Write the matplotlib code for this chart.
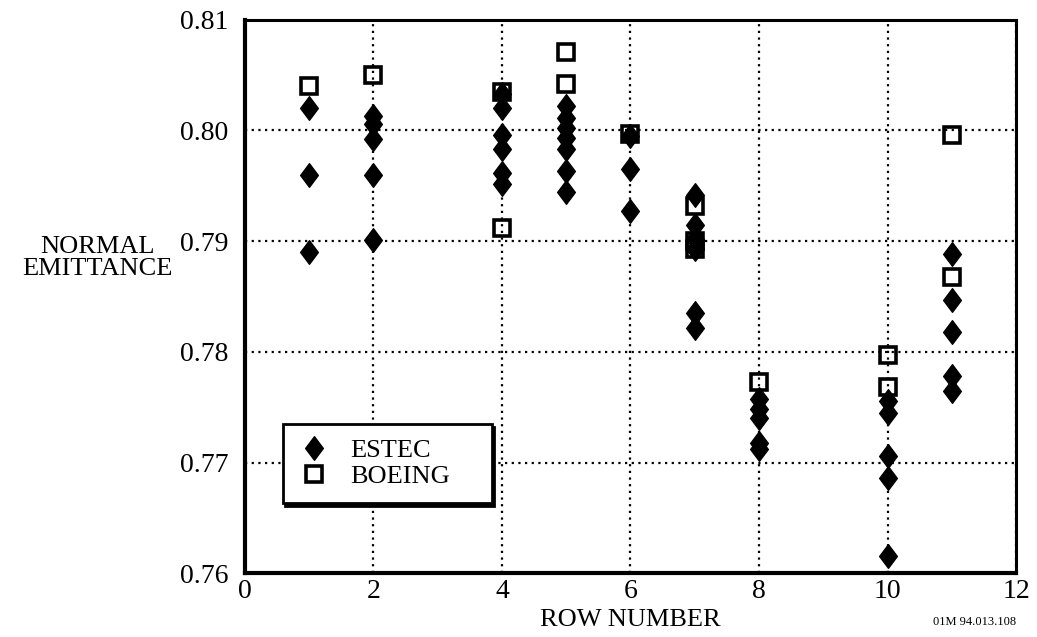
import matplotlib
matplotlib.use("Agg")
import matplotlib.pyplot as plt
from matplotlib.path import Path

plt.rcParams['font.family'] = ['Liberation Serif', 'DejaVu Serif']

# ESTEC measurements (row number, normal emittance)
estec_rows = [1, 1, 1,
              2, 2, 2, 2, 2,
              4, 4, 4, 4, 4, 4,
              5, 5, 5, 5, 5, 5, 5,
              6, 6, 6,
              7, 7, 7, 7, 7, 7,
              8, 8, 8, 8, 8,
              10, 10, 10, 10, 10,
              11, 11, 11, 11, 11]
estec_values = [0.8020, 0.7960, 0.7890,
                0.8013, 0.8006, 0.7992, 0.7960, 0.7901,
                0.8033, 0.8020, 0.7996, 0.7983, 0.7962, 0.7952,
                0.8022, 0.8011, 0.8002, 0.7993, 0.7983, 0.7963, 0.7944,
                0.7995, 0.7965, 0.7927,
                0.7942, 0.7915, 0.7902, 0.7893, 0.7835, 0.7822,
                0.7757, 0.7748, 0.7740, 0.7718, 0.7712,
                0.7756, 0.7745, 0.7706, 0.7686, 0.7616,
                0.7888, 0.7847, 0.7818, 0.7778, 0.7765]

# BOEING measurements
boeing_rows = [1, 2, 4, 4, 5, 5, 6, 7, 7, 7, 8, 10, 10, 11, 11]
boeing_values = [0.8040, 0.8050, 0.8035, 0.7912, 0.8071, 0.8042, 0.7997,
                 0.7932, 0.7900, 0.7893, 0.7773, 0.7797, 0.7768, 0.7996, 0.7868]

x_ticks = [0, 2, 4, 6, 8, 10, 12]
y_ticks = [0.76, 0.77, 0.78, 0.79, 0.80, 0.81]

# diamond a bit narrower than it is tall
diamond = Path([(0, 1), (0.75, 0), (0, -1), (-0.75, 0), (0, 1)],
               [Path.MOVETO, Path.LINETO, Path.LINETO, Path.LINETO, Path.CLOSEPOLY])

fig = plt.figure(figsize=(10.37, 6.37), dpi=100)
ax = fig.add_axes([0.236, 0.100, 0.744, 0.869])

ax.plot(estec_rows, estec_values, linestyle='none', marker=diamond,
        markersize=17, color='black', label='ESTEC', zorder=3)
ax.plot(boeing_rows, boeing_values, linestyle='none', marker='s',
        markersize=12, markerfacecolor='none', markeredgecolor='black',
        markeredgewidth=2.6, label='BOEING', zorder=4)

ax.set_xlim(0, 12)
ax.set_ylim(0.76, 0.81)
ax.set_xticks(x_ticks)
ax.set_yticks(y_ticks)
ax.set_yticklabels(['%.2f' % v for v in y_ticks])
ax.tick_params(length=0, labelsize=20)
ax.tick_params(axis='y', pad=12)
ax.tick_params(axis='x', pad=4)
ax.grid(True, color='black', linestyle=(0, (1, 2)), linewidth=1.6)
ax.set_axisbelow(True)

for s in ax.spines.values():
    s.set_linewidth(2.2)
ax.spines['left'].set_linewidth(3)
ax.spines['bottom'].set_linewidth(3)

ax.set_xlabel('ROW NUMBER', fontsize=19, labelpad=4)
fig.text(0.094, 0.595, 'NORMAL\nEMITTANCE', ha='center', va='center',
         fontsize=19, linespacing=0.95)
fig.text(0.94, 0.023, '01M 94.013.108', ha='center', va='center', fontsize=9)

leg = ax.legend(loc='lower left', bbox_to_anchor=(0.049, 0.127, 0.271, 0.141),
                mode='expand', fontsize=19,
                frameon=True, fancybox=False, shadow={'color': 'black', 'alpha': 1.0},
                edgecolor='black', borderpad=0.55, borderaxespad=0,
                handlelength=1.3, handletextpad=0.7, labelspacing=0.12)
leg.get_frame().set_linewidth(2)

plt.savefig('out.png', dpi=100)
